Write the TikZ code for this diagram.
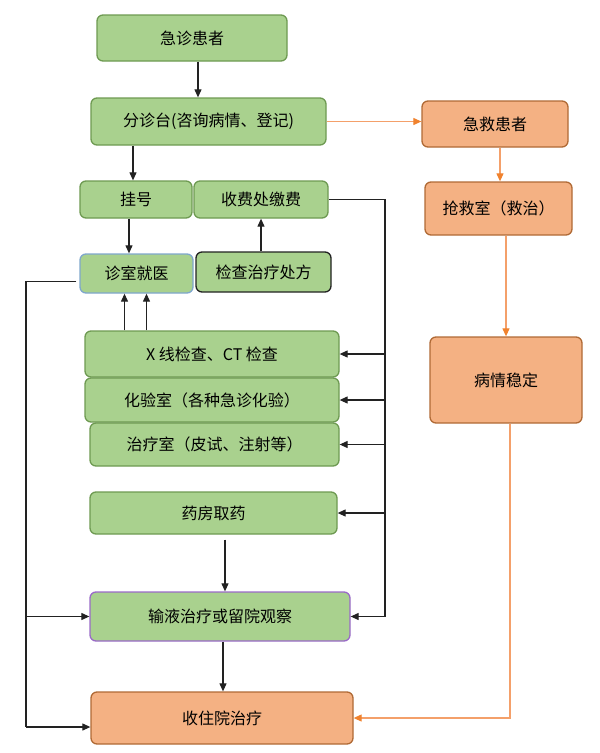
\documentclass[tikz,border=0pt]{standalone}
\usepackage{fontspec}
\setmainfont{Noto Sans CJK SC}
\usetikzlibrary{arrows.meta,calc}
\definecolor{gfill}{HTML}{A9D18E}
\definecolor{gdraw}{HTML}{6E9A52}
\definecolor{ofill}{HTML}{F4B183}
\definecolor{odraw}{HTML}{B06A35}
\definecolor{oline}{HTML}{F4A06A}
\definecolor{otip}{HTML}{F0822E}
\definecolor{bdraw}{HTML}{7FA7CC}
\definecolor{pdraw}{HTML}{9A6AC8}
\definecolor{kline}{HTML}{222222}
\begin{document}
\begin{tikzpicture}[x=1pt,y=-1pt,
  gbox/.style={rectangle, rounded corners=6pt, draw=gdraw, fill=gfill, line width=1.3pt, inner sep=0pt, font=\fontsize{16}{18}\selectfont},
  obox/.style={gbox, draw=odraw, fill=ofill},
  arr/.style={draw=kline, line width=1.1pt, -{Triangle[length=8pt,width=7pt]}},
  kln/.style={draw=kline, line width=1.1pt},
  oarr/.style={draw=oline, line width=1.1pt, -{Triangle[length=8pt,width=7pt,color=otip]}}]
\useasboundingbox (0,0) rectangle (600,753);
% nodes
\node[gbox, minimum width=190pt, minimum height=46pt] (n1) at (192,38) {急诊患者};
\node[gbox, minimum width=235pt, minimum height=47pt] (n2) at (208.5,121.5) {分诊台(咨询病情、登记)};
\node[obox, minimum width=146pt, minimum height=46pt] (r1) at (495,124) {急救患者};
\node[gbox, minimum width=112pt, minimum height=37pt] (gh) at (136,199.5) {挂号};
\node[gbox, minimum width=134pt, minimum height=37pt] (sf) at (261,199.5) {收费处缴费};
\node[gbox, draw=bdraw, minimum width=113pt, minimum height=39pt] (zs) at (136.5,273.5) {诊室就医};
\node[gbox, draw=kline, minimum width=135pt, minimum height=40pt] (cf) at (263.5,272) {检查治疗处方};
\node[obox, minimum width=147pt, minimum height=53pt] (r2) at (498.5,208.5) {抢救室（救治）};
\node[gbox, minimum width=254pt, minimum height=46pt] (xx) at (212,354) {X 线检查、CT 检查};
\node[gbox, minimum width=254pt, minimum height=44pt] (hy) at (212,400) {化验室（各种急诊化验）};
\node[gbox, minimum width=249pt, minimum height=43pt] (zl) at (214.5,444.5) {治疗室（皮试、注射等）};
\node[obox, minimum width=152pt, minimum height=86pt] (r3) at (506,380) {病情稳定};
\node[gbox, minimum width=247pt, minimum height=42pt] (yf) at (213.5,513) {药房取药};
\node[gbox, draw=pdraw, minimum width=260pt, minimum height=49pt] (sy) at (220,616.5) {输液治疗或留院观察};
\node[obox, minimum width=262pt, minimum height=52pt] (zy) at (222,718) {收住院治疗};
% black connectors
\coordinate (p1) at ([xshift=6pt]n1.south);
\draw[arr] (p1) -- (p1 |- n2.north);
\coordinate (p2) at ([xshift=-3pt]gh.north);
\draw[arr] (p2 |- n2.south) -- (p2);
\coordinate (p3) at ([xshift=-7pt]gh.south);
\draw[arr] (p3) -- (p3 |- zs.north);
\draw[arr] (sf.south |- cf.north) -- (sf.south);
% right bus
\coordinate (rt) at (385,200);
\draw[kln] (sf.east) -- (sf.east -| rt) -- (rt |- sy.east);
\foreach \t in {xx,hy,zl,yf,sy} \draw[arr] (rt |- \t.east) -- (\t.east);
% up arrows
\coordinate (u1) at ([xshift=-12pt]zs.south);
\coordinate (u2) at ([xshift=10pt]zs.south);
\draw[arr] (u1 |- xx.north) -- (u1);
\draw[arr] (u2 |- xx.north) -- (u2);
% left bus
\coordinate (zsl) at ([xshift=-3pt,yshift=-8pt]zs.west);
\coordinate (lx) at (26,0);
\coordinate (zyl) at ([yshift=-9pt]zy.west);
\draw[kln] (zsl) -- (zsl -| lx) -- (zyl -| lx);
\draw[arr] (sy.west -| lx) -- (sy.west);
\draw[arr] (zyl -| lx) -- (zyl);
% vertical lower
\coordinate (p4) at ([xshift=11.5pt,yshift=-5pt]yf.south);
\draw[arr] (p4) -- (p4 |- sy.north);
\coordinate (p5) at ([xshift=3pt]sy.south);
\draw[arr] (p5) -- (p5 |- zy.north);
% orange connectors
\draw[oarr] (n2.east) -- (n2.east -| r1.west);
\coordinate (p6) at ([xshift=5pt]r1.south);
\draw[oarr] (p6) -- (p6 |- r2.north);
\draw[oarr] (r3.north |- r2.south) -- (r3.north);
\coordinate (o1) at ([xshift=4pt]r3.south);
\draw[oarr] (o1) -- (o1 |- zy.east) -- (zy.east);
\end{tikzpicture}
\end{document}
